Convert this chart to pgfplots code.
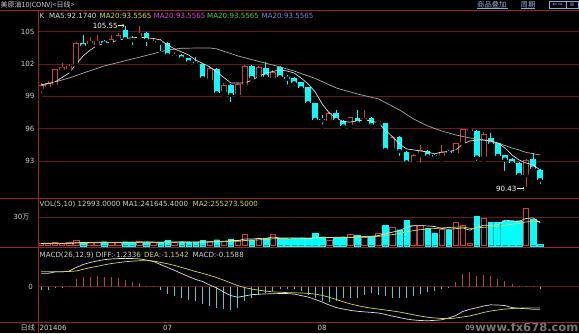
\documentclass[border=0pt]{standalone}
\usepackage{fontspec}
\setmainfont{DejaVu Sans}
\newfontfamily\cjk{Noto Sans CJK SC}
\usepackage{pgfplots}
\pgfplotsset{compat=1.18}
\usepackage{pgfplotstable}

\definecolor{sepred}{RGB}{150,38,38}
\definecolor{gridred}{RGB}{100,26,26}
\definecolor{cyanc}{RGB}{0,255,255}
\definecolor{redc}{RGB}{205,62,62}
\definecolor{lblgray}{RGB}{210,210,210}
\definecolor{ma5c}{RGB}{222,222,222}
\definecolor{ma20c}{RGB}{170,170,170}
\definecolor{yel}{RGB}{215,215,80}
\definecolor{mag}{RGB}{220,70,220}
\definecolor{grn}{RGB}{70,210,70}
\definecolor{blu}{RGB}{130,130,225}
\definecolor{linkc}{RGB}{150,170,215}
\definecolor{histred}{RGB}{175,70,70}
\definecolor{histcyan}{RGB}{90,200,200}

\newcommand\sm{\fontsize{7.1}{8}\selectfont}

\pgfplotstableread{
x bot top low high v
0 99.66 100.06 99.13 100.21 21
1 99.84 100.27 99.70 100.45 21
2 100.06 101.51 99.95 101.55 32
3 101.42 101.71 101.14 102.12 21
4 101.51 101.85 101.40 102.00 32
5 102.00 103.98 101.90 104.05 53
7 103.83 104.17 103.60 104.50 32
8 103.77 104.17 103.60 104.70 32
10 103.86 104.30 103.60 104.70 32
11 104.23 104.69 104.05 104.88 32
14 104.39 104.91 104.23 105.48 42
16 103.81 104.18 103.67 104.42 32
19 102.61 102.79 102.37 103.10 32
24 100.52 101.63 100.33 101.80 42
26 99.41 100.06 99.13 100.24 42
28 99.13 100.15 99.00 100.20 53
29 100.06 101.82 100.00 101.90 123
31 100.83 101.75 100.70 101.85 74
33 100.68 101.29 100.55 101.40 123
41 96.74 97.46 96.60 97.55 56
44 96.22 97.04 95.97 97.10 116
46 96.74 96.95 96.50 97.74 87
48 96.48 96.67 96.30 96.80 126
50 94.03 95.26 93.90 95.35 193
53 92.79 93.56 92.70 93.65 214
54 93.56 94.03 92.63 94.49 214
57 93.44 93.87 93.10 94.49 168
59 93.78 94.65 93.70 94.70 249
60 94.65 95.95 94.60 96.00 214
61 95.79 95.93 95.60 96.07 21
63 93.33 95.51 93.10 95.70 284
69 91.71 93.10 90.43 93.20 397
}\uptab

\pgfplotstableread{
x bot top low high v
6 103.67 103.92 103.55 104.69 32
9 103.92 104.14 103.85 104.25 42
12 104.30 105.20 104.20 105.55 42
13 104.22 104.35 103.55 104.60 32
15 104.23 104.85 103.46 104.95 42
17 103.98 104.07 103.00 104.30 32
18 102.84 103.92 102.68 104.07 53
20 102.53 102.84 102.45 102.90 42
21 102.17 102.56 102.10 102.60 32
22 102.03 102.14 101.75 102.68 32
23 100.68 101.96 100.60 102.00 53
25 99.29 101.54 99.25 101.60 63
27 99.13 100.06 98.29 100.10 70
30 100.70 101.82 100.60 101.90 63
32 100.83 101.60 100.70 102.22 74
34 100.77 101.75 100.65 101.85 74
35 100.64 100.77 99.90 100.98 68
36 100.21 100.68 99.78 100.75 74
37 99.75 100.29 99.60 100.35 74
38 98.36 99.84 98.30 99.90 74
39 96.81 98.36 96.70 98.40 134
40 96.76 96.86 96.19 97.27 92
42 96.81 97.46 96.53 97.74 87
43 96.22 96.72 96.10 96.80 87
45 96.53 96.95 96.35 97.74 108
47 96.32 96.97 96.20 97.05 98
49 94.03 96.50 93.95 96.55 211
51 93.93 95.19 93.28 95.30 168
52 92.87 93.87 92.75 93.95 266
55 93.44 93.96 93.35 94.05 179
56 93.38 93.56 93.30 93.65 134
58 93.75 93.93 93.65 94.00 168
62 93.33 95.82 92.82 95.90 308
64 94.58 95.11 94.20 95.60 245
65 93.47 94.65 93.40 94.70 245
66 93.14 93.53 91.89 93.60 263
67 92.79 93.22 92.70 93.30 263
68 91.71 92.85 91.60 92.90 263
70 92.29 93.16 92.08 93.75 274
71 91.24 92.17 90.69 92.30 13
}\downtab

\pgfplotstableread{
x ma5 ma20 vma1 vma2 diff dea
0 100.06 99.96 24 25 0.71 0.80
1 100.20 100.15 24 25 0.71 0.80
2 100.33 100.33 25 25 0.79 0.80
3 100.75 100.52 24 25 0.79 0.80
4 101.17 100.70 25.4 25 0.83 0.81
5 102.00 100.93 31.8 27.9 1.03 0.84
6 102.75 101.16 34 29 1.19 0.93
7 103.30 101.38 34 29.5 1.30 1.02
8 103.72 101.60 36.2 30.1 1.38 1.09
9 103.90 101.82 38.2 31.8 1.45 1.17
10 104.04 101.98 34 32.9 1.49 1.24
11 104.20 102.14 34 34 1.51 1.29
12 104.37 102.31 36 35 1.52 1.34
13 104.43 102.47 36 36.1 1.51 1.37
14 104.48 102.63 36 37.1 1.49 1.39
15 104.43 102.80 38 36 1.43 1.40
16 104.37 102.96 38 36 1.35 1.38
17 104.23 103.13 36 36 1.19 1.30
18 103.77 103.30 40.2 38.1 1.03 1.23
19 103.40 103.38 38.2 37.1 0.87 1.14
20 103.12 103.46 38.2 38.1 0.70 1.03
21 102.84 103.47 38.2 38.1 0.54 0.92
22 102.37 103.48 38.2 37.1 0.38 0.81
23 102.05 103.49 38.2 39.2 0.27 0.71
24 101.73 103.49 40.2 39.2 0.08 0.60
25 101.26 103.40 44.4 41.3 -0.08 0.48
26 100.75 103.18 46.4 42.3 -0.30 0.34
27 100.24 102.97 54 46.1 -0.49 0.19
28 100.24 102.75 54 46.1 -0.58 0.05
29 100.24 102.58 70.2 55.2 -0.51 -0.06
30 100.52 102.41 70.2 57.3 -0.44 -0.14
31 100.85 102.24 76.6 61.5 -0.42 -0.20
32 101.17 102.07 77.4 65.7 -0.40 -0.25
33 101.31 101.90 91.4 72.7 -0.39 -0.29
34 101.45 101.73 81.6 75.9 -0.38 -0.31
35 101.35 101.54 82.6 76.4 -0.38 -0.33
36 101.17 101.35 82.6 79.6 -0.41 -0.34
37 100.70 101.12 82.6 80 -0.49 -0.35
38 100.15 100.89 72.8 82.1 -0.57 -0.37
39 99.41 100.66 84.8 83.2 -0.70 -0.41
40 98.29 100.37 89.6 86.1 -0.84 -0.48
41 97.46 100.07 86 84.3 -1.00 -0.58
42 96.99 99.78 88.6 85.6 -1.14 -0.70
43 96.65 99.59 91.2 82 -1.22 -0.83
44 96.62 99.41 87.6 86.2 -1.29 -0.94
45 96.72 99.22 90.8 90.2 -1.34 -1.03
46 96.81 99.07 97 91.5 -1.37 -1.11
47 96.72 98.91 99.2 93.9 -1.40 -1.17
48 96.53 98.76 107 99.1 -1.43 -1.22
49 95.88 98.42 126 106.8 -1.51 -1.27
50 95.23 98.08 143 116.9 -1.60 -1.32
51 94.58 97.74 159.2 128.1 -1.68 -1.38
52 94.12 97.32 192.8 146 -1.76 -1.45
53 94.03 96.90 210.4 158.7 -1.81 -1.53
54 93.93 96.58 211 168.5 -1.84 -1.60
55 93.84 96.25 208.2 175.6 -1.85 -1.66
56 93.66 96.02 201.4 180.3 -1.83 -1.70
57 93.84 95.79 181.8 187.3 -1.80 -1.73
58 93.87 95.60 172.6 191.5 -1.70 -1.74
59 94.03 95.42 179.6 195.3 -1.57 -1.70
60 94.58 95.28 186.6 197.4 -1.35 -1.65
61 94.86 95.14 164 182.7 -1.23 -1.59
62 94.95 95.05 192 186.9 -1.15 -1.50
63 94.95 94.95 215.2 193.9 -1.05 -1.40
64 94.86 94.81 214.4 197 -0.99 -1.32
65 94.67 94.67 220.6 203.6 -1.00 -1.27
66 94.21 94.44 269 216.5 -1.03 -1.22
67 93.56 94.21 260 226 -1.14 -1.19
68 93.10 94.03 255.8 235.5 -1.18 -1.17
69 92.82 93.80 286.2 250.3 -1.20 -1.16
70 92.63 93.68 292 256.3 -1.23 -1.155
71 92.17 93.56 241.6 255.3 -1.2336 -1.1542
}\lintab

\pgfplotsset{
  panel/.style={
    scale only axis, width=541pt, xmin=-0.427, xmax=76.53,
    anchor=south west,
    axis line style={draw=none}, tick style={draw=none},
    major tick length=0pt,
    xtick=\empty, ymajorgrids, grid style={gridred, line width=0.8pt},
    yticklabel style={text=lblgray, font=\sm},
    xticklabel style={text=lblgray, font=\sm},
    /pgf/number format/assume math mode=true,
  },
  wick/.style={only marks, mark=none, error bars/.cd, y dir=plus, y explicit, error mark=none,
    error bar style={line width=1pt, draw=#1}},
  body/.style 2 args={only marks, mark=none, error bars/.cd, y dir=plus, y explicit, error mark=none,
    error bar style={line width=#2, draw=#1}},
}

\begin{document}
\begin{tikzpicture}
\useasboundingbox (0pt,0pt) rectangle (579pt,333pt);
\fill[black] (0pt,0pt) rectangle (579pt,333pt);

% watermark, behind everything
\node[anchor=east, inner sep=0pt, text={rgb,255:red,118;green,118;blue,118}, font=\fontsize{11.5}{12}\selectfont\bfseries] at (578.5pt,6pt) {www.fx678.com};

% ---------------- price panel
\begin{axis}[panel, at={(38pt,135pt)}, height=188pt, ymin=89.57, ymax=107.01,
  ytick={93,96,99,102,105}]
\addplot[wick=cyanc] table[x=x, y=low, y error expr=\thisrow{high}-\thisrow{low}] {\downtab};
\addplot[wick=redc] table[x=x, y=low, y error expr=\thisrow{high}-\thisrow{low}] {\uptab};
\addplot[body={cyanc}{5.6pt}] table[x=x, y=bot, y error expr=\thisrow{top}-\thisrow{bot}] {\downtab};
\addplot[body={redc}{5.6pt}] table[x=x, y=bot, y error expr=\thisrow{top}-\thisrow{bot}] {\uptab};
\addplot[body={black}{4pt}] table[x=x, y expr=\thisrow{bot}+0.08, y error expr={max(\thisrow{top}-\thisrow{bot}-0.16,0)}] {\uptab};
\addplot[ma20c, line width=0.7pt, mark=none] table[x=x, y=ma20] {\lintab};
\addplot[ma5c, line width=0.7pt, mark=none] table[x=x, y=ma5] {\lintab};
\node[anchor=east, text=white, font=\sm, inner sep=0pt] at (axis cs:12,105.55) [xshift=-7.5pt] {105.55};
\draw[white, line width=0.5pt, ->] (axis cs:12,105.55) ++(-7pt,0pt) -- ++(6pt,0pt);
\node[anchor=east, text=white, font=\sm, inner sep=0pt] at (axis cs:69,90.43) [xshift=-9.5pt] {90.43};
\draw[white, line width=0.5pt, ->] (axis cs:69,90.43) ++(-9pt,0pt) -- ++(8pt,0pt);
\end{axis}

% ---------------- volume panel
\begin{axis}[panel, at={(38pt,85.5pt)}, height=49.5pt, ymin=-18.9, ymax=502,
  ytick={300}, yticklabels={{30{\cjk 万}}}, yticklabel style={xshift=-5pt}]
\addplot[ybar, bar width=5.6pt, bar shift=0pt, fill=cyanc, draw=cyanc, line width=0.4pt] table[x=x, y=v] {\downtab};
\addplot[ybar, bar width=5.6pt, bar shift=0pt, fill=black, draw=redc, line width=0.8pt] table[x=x, y=v] {\uptab};
\addplot[ma5c, line width=0.7pt, mark=none] table[x=x, y=vma1] {\lintab};
\addplot[yel, line width=0.7pt, mark=none] table[x=x, y=vma2] {\lintab};
\end{axis}

% ---------------- MACD panel
\begin{axis}[panel, at={(38pt,11pt)}, height=74.5pt, ymin=-1.919, ymax=2.108,
  ytick={0}, yticklabel style={xshift=-1.6pt},
  xtick={18,40,61}, xticklabels={07,08,09}]
\addplot[ycomb, histred, line width=1pt, mark=none] coordinates {
(4,0.05)(5,0.42)(6,0.50)(7,0.54)(8,0.58)(9,0.54)(10,0.49)(11,0.45)(12,0.36)(13,0.25)(14,0.20)(15,0.05)(16,0.02)
(59,0.23)(60,0.70)(61,0.80)(62,0.59)(63,0.63)(64,0.58)(65,0.42)(66,0.30)(67,0.16)(68,0.05)(69,0.03)(70,0.02)};
\addplot[ycomb, histcyan, line width=1pt, mark=none] coordinates {
(0,-0.18)(1,-0.18)(2,-0.03)(3,-0.02)
(17,-0.18)(18,-0.42)(19,-0.54)(20,-0.63)(21,-0.72)(22,-0.81)(23,-0.96)(24,-1.03)(25,-1.17)(26,-1.21)(27,-1.26)(28,-1.17)
(29,-0.77)(30,-0.63)(31,-0.45)(32,-0.36)(33,-0.23)(34,-0.16)(35,-0.16)(36,-0.16)(37,-0.23)(38,-0.45)(39,-0.63)(40,-0.81)
(41,-0.85)(42,-0.77)(43,-0.63)(44,-0.63)(45,-0.60)(46,-0.45)(47,-0.36)(48,-0.45)(49,-0.54)(50,-0.63)(51,-0.60)(52,-0.63)
(53,-0.49)(54,-0.42)(55,-0.31)(56,-0.23)(57,-0.12)(58,-0.02)(71,-0.1588)};
\addplot[ma5c, line width=0.7pt, mark=none] table[x=x, y=diff] {\lintab};
\addplot[yel, line width=0.7pt, mark=none] table[x=x, y=dea] {\lintab};
\end{axis}

% ---------------- frame lines
\draw[sepred, line width=0.9pt] (0pt,323pt) -- (579pt,323pt);
\draw[sepred, line width=0.9pt] (0pt,135pt) -- (579pt,135pt);
\draw[sepred, line width=0.9pt] (0pt,85.5pt) -- (579pt,85.5pt);
\draw[sepred, line width=0.9pt] (0pt,11pt) -- (579pt,11pt);
\draw[sepred, line width=0.9pt] (38pt,0pt) -- (38pt,323pt);

% ---------------- texts
\node[anchor=west, inner sep=0pt, text=lblgray, font=\cjk\fontsize{7}{8}\selectfont] at (0.5pt,328pt) {美原油10(CONV)<日线>};
\node[anchor=west, inner sep=0pt, text=linkc, font=\cjk\fontsize{7.3}{8}\selectfont] at (477pt,328.6pt) {商品叠加};
\draw[linkc, line width=0.5pt] (477pt,324.4pt) -- (508pt,324.4pt);
\node[anchor=west, inner sep=0pt, text=linkc, font=\cjk\fontsize{7.3}{8}\selectfont] at (520.5pt,328.6pt) {周期};
\draw[linkc, line width=0.5pt] (520.5pt,324.4pt) -- (535pt,324.4pt);
\draw[linkc, line width=0.5pt] (549pt,325pt) rectangle (578.5pt,332pt);
\draw[linkc, line width=0.5pt] (566pt,325pt) -- (566pt,332pt);
\node[inner sep=0pt, text=linkc, font=\fontsize{6}{6}\selectfont] at (557.5pt,328.5pt) {⇐⇒};
\node[inner sep=0pt, text=linkc, font=\fontsize{6}{6}\selectfont] at (572.2pt,328.5pt) {≡};

\node[anchor=west, inner sep=0pt, text=lblgray, font=\sm] at (39.5pt,317pt) {K};
\node[anchor=west, inner sep=0pt, text=ma5c, font=\sm] at (49pt,317pt) {MA5:92.1740};
\node[anchor=west, inner sep=0pt, text=yel, font=\sm] at (99.5pt,317pt) {MA20:93.5565};
\node[anchor=west, inner sep=0pt, text=mag, font=\sm] at (153.5pt,317pt) {MA20:93.5565};
\node[anchor=west, inner sep=0pt, text=grn, font=\sm] at (207pt,317pt) {MA20:93.5565};
\node[anchor=west, inner sep=0pt, text=blu, font=\sm] at (261.5pt,317pt) {MA20:93.5565};

\node[anchor=west, inner sep=0pt, text=lblgray, font=\sm] at (39.5pt,128.7pt) {VOL(5,10) 12993.0000 MA1:241645.4000};
\node[anchor=west, inner sep=0pt, text=yel, font=\sm] at (192.5pt,128.7pt) {MA2:255273.5000};

\node[anchor=west, inner sep=0pt, text=lblgray, font=\sm] at (39.5pt,78pt) {MACD(26,12,9) DIFF:-1.2336};
\node[anchor=west, inner sep=0pt, text=yel, font=\sm] at (144pt,78pt) {DEA:-1.1542};
\node[anchor=west, inner sep=0pt, text=lblgray, font=\sm] at (192.5pt,78pt) {MACD:-0.1588};

\node[anchor=west, inner sep=0pt, text=lblgray, font=\cjk\fontsize{7.2}{8}\selectfont] at (20.5pt,5.3pt) {日线};
\node[anchor=west, inner sep=0pt, text=lblgray, font=\sm] at (39.3pt,5.3pt) {201406};
\end{tikzpicture}
\end{document}
